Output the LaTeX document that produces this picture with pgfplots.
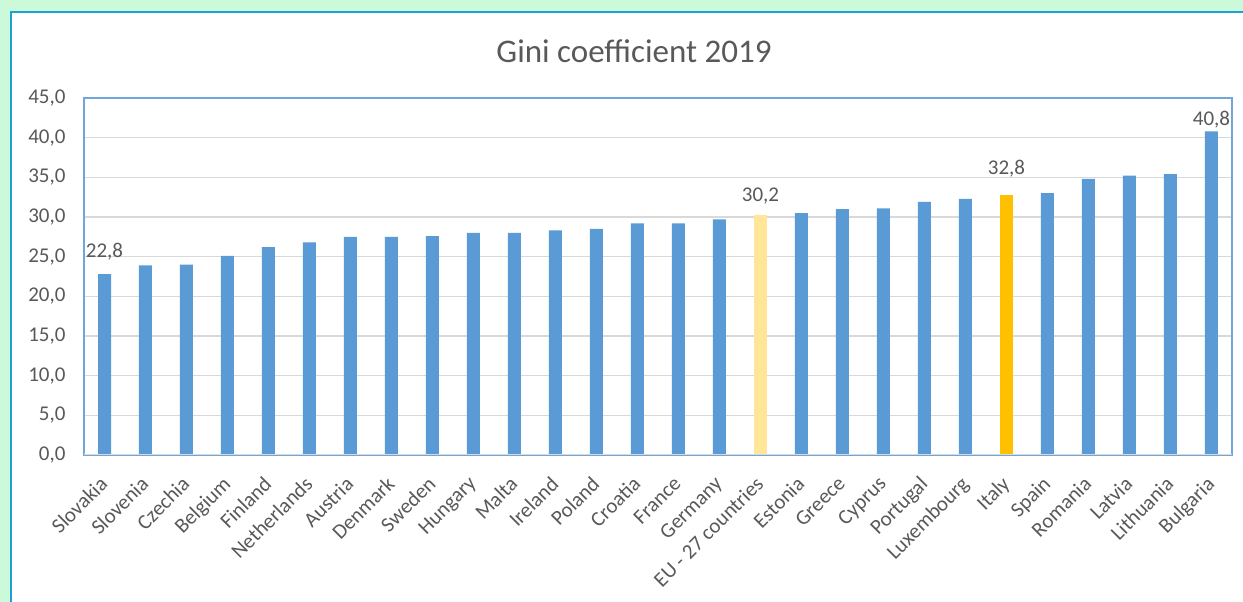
\documentclass[border=0pt]{standalone}
\usepackage{fontspec}
\setmainfont{Carlito}
\usepackage{pgfplots}
\pgfplotsset{compat=1.18}
\definecolor{bggreen}{HTML}{CDF9DB}
\definecolor{panelb}{HTML}{1DA1D2}
\definecolor{barblue}{HTML}{5B9BD5}
\definecolor{euyel}{HTML}{FFE699}
\definecolor{itgold}{HTML}{FFC000}
\definecolor{txt}{HTML}{595959}
\definecolor{gridc}{HTML}{D9D9D9}
\definecolor{frameb}{HTML}{70A6DC}
\begin{document}
\begin{tikzpicture}[x=1pt,y=1pt]
\useasboundingbox (0,0) rectangle (1243,602);
\fill[bggreen] (0,0) rectangle (1243,602);
\fill[white] (11,0) rectangle (1243,590);
\draw[panelb, line width=2pt] (11,0) -- (11,590) -- (1243,590);
\node[text=txt, font=\fontsize{33}{38}\selectfont] at (634,551) {Gini coefficient 2019};
\begin{axis}[
  at={(84pt,147pt)}, anchor=south west,
  scale only axis, width=1148pt, height=357pt,
  xmin=-0.5, xmax=27.5, ymin=0, ymax=45,
  ytick={0,5,...,45},
  xtick={0,...,27},
  xticklabels={Slovakia,Slovenia,Czechia,Belgium,Finland,Netherlands,Austria,Denmark,Sweden,Hungary,Malta,Ireland,Poland,Croatia,France,Germany,EU - 27 countries,Estonia,Greece,Cyprus,Portugal,Luxembourg,Italy,Spain,Romania,Latvia,Lithuania,Bulgaria},
  xticklabel style={xshift=-6pt, yshift=-20pt, rotate=45, anchor=north east, inner sep=0pt, font=\fontsize{21}{24}\selectfont, text=txt},
  yticklabel style={font=\fontsize{21}{24}\selectfont, text=txt, xshift=-15pt},
  /pgf/number format/assume math mode=true,
  yticklabel={\pgfmathprintnumber[fixed, fixed zerofill, precision=1, use comma]{\tick}},
  major tick length=0pt,
  ymajorgrids, grid style={gridc, line width=1.5pt},
  axis line style={frameb, line width=1.2pt},
  ybar, bar width=13pt, bar shift=0pt,
  lbl/.style={draw=none, fill=none, nodes near coords={\pgfmathprintnumber[fixed, fixed zerofill, precision=1, use comma]{\pgfplotspointmeta}},
    every node near coord/.append style={anchor=south, inner sep=0pt, yshift=#1, text=txt, font=\fontsize{21}{24}\selectfont, /pgf/number format/assume math mode=true}},
]
\addplot[fill=barblue, draw=none] coordinates {
(0,22.8)(1,23.9)(2,24.0)(3,25.1)(4,26.2)(5,26.8)(6,27.5)(7,27.5)(8,27.6)(9,28.0)(10,28.0)(11,28.3)(12,28.5)(13,29.2)(14,29.2)(15,29.7)
(17,30.5)(18,31.0)(19,31.1)(20,31.9)(21,32.3)(23,33.0)(24,34.8)(25,35.2)(26,35.4)(27,40.8)};
\addplot[fill=euyel, draw=none] coordinates {(16,30.2)};
\addplot[fill=itgold, draw=none] coordinates {(22,32.8)};
\addplot[lbl=14pt] coordinates {(0,22.8)};
\addplot[lbl=11pt] coordinates {(16,30.2)};
\addplot[lbl=17pt] coordinates {(22,32.8)};
\addplot[lbl=3pt] coordinates {(27,40.8)};
\draw[gridc, line width=2.5pt] (rel axis cs:0,0) -- (rel axis cs:1,0);
\end{axis}
\end{tikzpicture}
\end{document}
